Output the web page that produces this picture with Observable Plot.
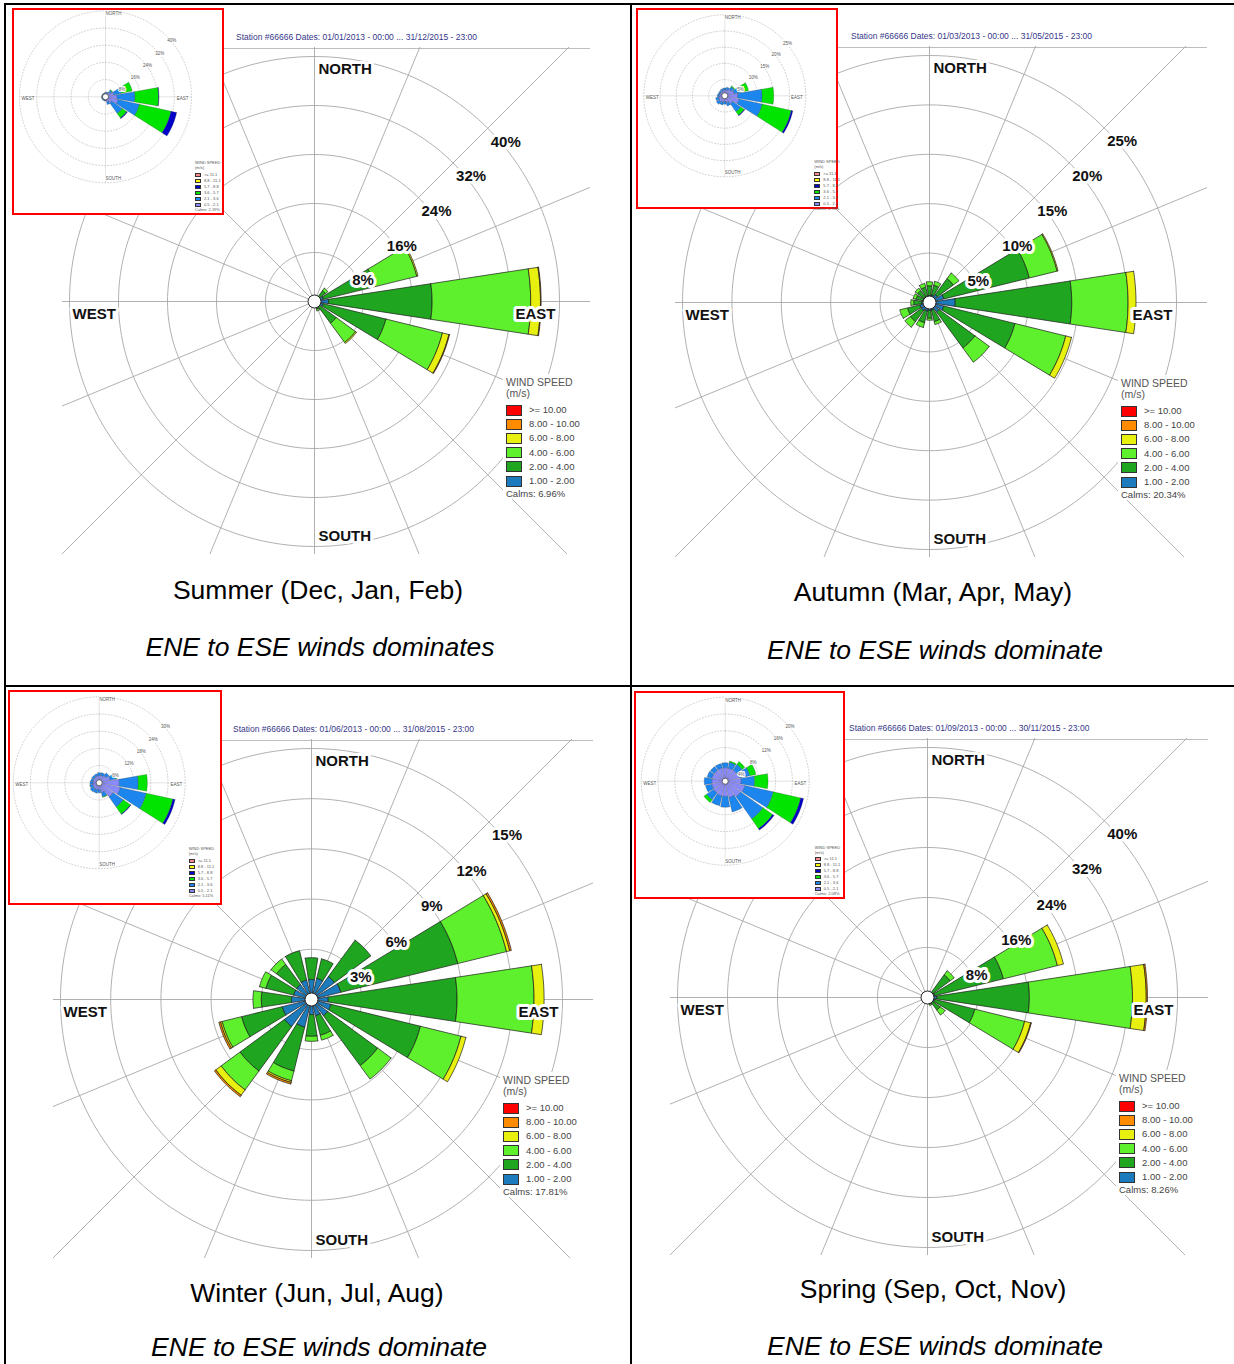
<!DOCTYPE html>
<html><head><meta charset="utf-8">
<script src="https://cdn.jsdelivr.net/npm/d3@7"></script>
<script src="https://cdn.jsdelivr.net/npm/@observablehq/plot@0.6"></script>
<style>
body{margin:0;background:#fff;font-family:"Liberation Sans",Arial,sans-serif;}
#page{position:relative;width:1234px;height:1364px;overflow:hidden;background:#fff}
.ln{position:absolute;background:#000}
.txt{position:absolute;white-space:nowrap;line-height:1}
.box{position:absolute;border:2px solid #ff0000;background:#fff;box-sizing:border-box}
.wbg{position:absolute;background:#fff}
.sw{position:absolute;box-sizing:border-box;border:1px solid #333}
</style></head>
<body><div id="page"></div>
<script>
// ---------- DATA ----------
const directions = ["N","NNE","NE","ENE","E","ESE","SE","SSE","S","SSW","SW","WSW","W","WNW","NW","NNW"];
const cardinalNames = ["NORTH","EAST","SOUTH","WEST"];
// main rose speed classes, inner -> outer
const speedLabels = ["1.00 - 2.00","2.00 - 4.00","4.00 - 6.00","6.00 - 8.00","8.00 - 10.00",">= 10.00"];
const insetSpeedLabels = ["0.5 - 2.1","2.1 - 3.6","3.6 - 5.7","5.7 - 8.8","8.8 - 11.1",">= 11.1"];

// frequencies (%) per direction, per class (inner -> outer)
const summerFreq = [
 [0.3,0.2],[0.3,0.3],[0.6,1.6,0.5],[1.5,8.7,7.0,0.2],[2.3,16.9,16.1,1.6,0.1],[1.5,10.5,9.5,1.1,0.1],[1.0,3.4,3.9,0.2],[0.5,0.8,0.3],
 [0.3,0.3],[0.3,0.2],[0.3,0.2],[0.3,0.2],[0.3,0.2],[0.3,0.1],[0.3,0.1],[0.3,0.1]];
const autumnFreq = [
 [0.7,1.0,0.4],[0.8,1.0,0.4],[1.0,2.0,0.7],[1.5,8.9,2.9,0.1],[2.6,11.8,5.7,0.8],[1.5,7.4,5.3,0.6],[1.2,4.5,1.8],[0.8,1.2,0.3],
 [0.8,0.8,0.2],[0.9,1.2,0.5],[1.0,1.4,0.7],[1.0,1.3,0.8],[0.8,0.8,0.3],[0.7,0.7,0.3],[0.7,0.8,0.3],[0.7,0.9,0.4]];
const winterFreq = [
 [1.2,1.3],[1.3,1.2],[1.7,2.7],[1.8,7.2,3.0,0.2,0.1],[1.0,7.7,4.6,0.6],[1.2,5.5,2.5,0.3],[1.2,3.7,1.0],[1.0,1.2,0.3],
 [0.9,1.3,0.3],[1.7,2.7,0.6,0.1,0.1],[2.0,3.3,1.4,0.4,0.1],[1.8,2.5,1.2,0.1,0.1],[1.2,1.8,0.5],[1.1,1.7,0.4],[1.1,1.5,0.4],[1.2,1.8]];
const springFreq = [
 [0.3,0.2],[0.4,0.4],[0.8,3.7,0.8],[1.2,11.3,8.9,1.0],[1.5,14.8,16.5,2.2,0.2],[1.2,6.6,8.2,1.0,0.1],[0.7,1.8,1.0],[0.5,0.6,0.2],
 [0.3,0.2],[0.3,0.2],[0.3,0.2],[0.3,0.2],[0.3,0.2],[0.3,0.2],[0.3,0.2],[0.3,0.2]];

const summerInsetFreq = [
 [1.6,0.4],[1.8,0.5],[2.5,1.2,0.3],[4.0,3.5,5.2],[5.3,8.4,11.0,0.2],[6.0,10.1,15.1,2.7],[3.5,6.0,2.5,0.4],[2.5,1.2],
 [1.6,0.4],[1.5,0.4],[1.5,0.4],[1.5,0.4],[1.5,0.3],[1.5,0.3],[1.5,0.3],[1.5,0.3]];
const autumnInsetFreq = [
 [1.8,0.6],[2.0,0.7],[2.4,1.0,0.3],[3.0,2.5,2.0],[4.0,7.5,3.6],[4.5,7.3,9.2,0.5],[3.0,3.0,1.3,0.2],[2.2,1.0],
 [1.8,0.8],[2.0,0.9],[2.2,1.0],[2.0,0.9],[1.7,0.6],[1.6,0.5],[1.6,0.5],[1.7,0.6]];
const winterInsetFreq = [
 [2.5,1.0],[2.6,1.0],[3.0,1.2],[4.0,2.0,0.3],[7.0,6.6,3.2],[7.5,9.3,9.5,0.8],[6.0,4.3,3.0,0.2],[3.5,1.5,0.2],
 [2.5,1.0],[2.5,1.2],[2.5,1.3],[2.4,1.0],[2.2,1.0],[2.2,0.8],[2.3,0.8],[2.4,0.8]];
const springInsetFreq = [
 [3.2,1.2],[3.2,1.4,0.3],[3.3,1.6,0.8],[3.5,2.5,1.5],[3.8,3.2,3.2],[4.8,6.9,6.7,0.7],[4.5,6.5,2.8,0.4],[4.0,3.5],
 [3.6,2.6],[3.6,2.4],[3.4,2.0,0.8],[3.3,1.5],[3.2,1.8],[3.2,1.2],[3.2,1.1],[3.2,1.1]];

const summerRings = [8,16,24,32,40];
const autumnRings = [5,10,15,20,25];
const winterRings = [3,6,9,12,15];
const springRings = [8,16,24,32,40];
const summerInsetRings = [8,16,24,32,40];
const autumnInsetRings = [5,10,15,20,25];
const winterInsetRings = [6,12,18,24,30];
const springInsetRings = [4,8,12,16,20];

const calmsValues = ["6.96%","20.34%","17.81%","8.26%"];
const insetCalms = ["2.19%","5.98%","5.11%","2.08%"];
const seasonTitles = ["Summer (Dec, Jan, Feb)","Autumn (Mar, Apr, May)","Winter (Jun, Jul, Aug)","Spring (Sep, Oct, Nov)"];
const seasonNotes = ["ENE to ESE winds dominates","ENE to ESE winds dominate","ENE to ESE winds dominate","ENE to ESE winds dominate"];
const headerTexts = [
 "Station #66666  Dates: 01/01/2013 - 00:00 ... 31/12/2015 - 23:00",
 "Station #66666  Dates: 01/03/2013 - 00:00 ... 31/05/2015 - 23:00",
 "Station #66666  Dates: 01/06/2013 - 00:00 ... 31/08/2015 - 23:00",
 "Station #66666  Dates: 01/09/2013 - 00:00 ... 30/11/2015 - 23:00"];

// ---------- STYLE ----------
const mainColors = ["#1b7bbd","#1fa51f","#5ef02c","#e8f010","#ff8c00","#ff0000"];
const insetColors = ["#8a8aff","#1c86ee","#00e400","#0000c8","#ffff00","#ff8a8a"];
const FONT = "Liberation Sans, Arial, sans-serif";

const page = document.getElementById("page");
function addText(txt, x, y, style) {
  const d = document.createElement("div");
  d.className = "txt"; d.textContent = txt;
  d.style.left = x + "px"; d.style.top = y + "px";
  d.style.cssText += style;
  page.appendChild(d); return d;
}
function addDiv(cls, x, y, w, h, style) {
  const d = document.createElement("div");
  d.className = cls;
  d.style.cssText = `left:${x}px;top:${y}px;width:${w}px;height:${h}px;` + (style || "");
  page.appendChild(d); return d;
}

function drawRose(o) {
  const {freq, rings, colors, cx, cy, R, left, top, right, bottom, hw, mini, lineY} = o;
  const max = rings[rings.length - 1];
  const u = max / R;
  const width = right - left, height = bottom - top;
  const rad = Math.PI / 180;
  const polar = (r, a) => [r * Math.sin(a * rad), r * Math.cos(a * rad)];
  const circlePts = rings.flatMap(r => d3.range(0, 361, 2).map(a => { const [x, y] = polar(r, a); return {r, x, y}; }));
  const spokeIdx = mini ? [0, 4, 8, 12] : d3.range(directions.length);
  const spokes = spokeIdx.map(i => { const [x2, y2] = polar(mini ? max : max * 1.9, i * 22.5); return {x2, y2}; });
  const segs = [];
  freq.forEach((vals, i) => {
    const th = i * 22.5;
    let r0 = 0;
    vals.forEach((v, j) => {
      if (!(v > 0)) return;
      const r1 = r0 + v, n = 10, pts = [];
      for (let k = 0; k <= n; k++) pts.push(polar(r1, th - hw + 2 * hw * k / n));
      if (r0 > 0) for (let k = n; k >= 0; k--) pts.push(polar(r0, th - hw + 2 * hw * k / n));
      else pts.push([0, 0]);
      pts.push(pts[0]);
      pts.forEach(([x, y]) => segs.push({id: i + "-" + j, cls: j, x, y}));
      r0 = r1;
    });
  });
  const marks = [];
  if (!mini) marks.push(Plot.ruleY([(cy - lineY) * u], {stroke: "#bdbdbd", strokeWidth: 1}));
  marks.push(Plot.link(spokes, {x1: () => 0, y1: () => 0, x2: "x2", y2: "y2",
    stroke: mini ? "#d0d0d0" : "#a8a8a8", strokeWidth: mini ? 0.6 : 0.9, clip: true}));
  marks.push(Plot.line(circlePts, {x: "x", y: "y", z: "r", stroke: mini ? "#b0b0b0" : "#a8a8a8",
    strokeWidth: mini ? 0.6 : 0.9, strokeDasharray: mini ? "1,2" : null}));
  colors.forEach((c, j) => {
    marks.push(Plot.line(segs.filter(d => d.cls === j), {x: "x", y: "y", z: "id", fill: c,
      stroke: mini ? "#333" : "#1a1a1a", strokeWidth: mini ? 0.25 : 0.7, strokeLinejoin: "round"}));
  });
  marks.push(Plot.dot([{x: 0, y: 0}], {x: "x", y: "y", r: mini ? 3 : 6.5, fill: "white",
    stroke: "#222", strokeWidth: mini ? 0.6 : 1}));
  // ring labels
  const rl = rings.map(r => ({r, x: r * Math.SQRT1_2, y: r * Math.SQRT1_2, t: r + "%"}));
  const rlOpts = mini
    ? {x: "x", y: "y", text: "t", dx: 1, dy: 5, textAnchor: "start", fontSize: 4.5}
    : {x: "x", y: "y", text: "t", dx: 3, dy: 13.5, textAnchor: "start", fontSize: 15, fontWeight: "bold"};
  marks.push(Plot.text(rl, {...rlOpts, fill: "white", stroke: "white", strokeWidth: mini ? 2 : 6}));
  marks.push(Plot.text(rl, {...rlOpts, fill: mini ? "#555" : "#111"}));
  // cardinal labels
  const card = [
    {t: cardinalNames[0], x: 0, y: max}, {t: cardinalNames[1], x: max, y: 0},
    {t: cardinalNames[2], x: 0, y: -max}, {t: cardinalNames[3], x: -max, y: 0}];
  const cOpts = mini
    ? [{dx: 0, dy: 3, textAnchor: "start"}, {dx: -3, dy: 2, textAnchor: "end"}, {dx: 0, dy: -4, textAnchor: "start"}, {dx: 2, dy: 2, textAnchor: "start"}]
    : [{dx: 4, dy: 12.5, textAnchor: "start"}, {dx: -4, dy: 13, textAnchor: "end"}, {dx: 4, dy: -10, textAnchor: "start"}, {dx: 3, dy: 13, textAnchor: "start"}];
  card.forEach((c, k) => {
    const base = {x: "x", y: "y", text: "t", ...cOpts[k], fontSize: mini ? 4.5 : 15, fontWeight: mini ? "normal" : "bold"};
    marks.push(Plot.text([c], {...base, fill: "white", stroke: "white", strokeWidth: mini ? 2 : 6}));
    marks.push(Plot.text([c], {...base, fill: mini ? "#555" : "#111"}));
  });
  const svg = Plot.plot({
    width, height, margin: 0,
    x: {domain: [-(cx - left) * u, (right - cx) * u], axis: null},
    y: {domain: [-(bottom - cy) * u, (cy - top) * u], axis: null},
    style: {background: "transparent", fontFamily: FONT, overflow: "visible"},
    marks
  });
  svg.style.position = "absolute";
  svg.style.left = left + "px";
  svg.style.top = top + "px";
  page.appendChild(svg);
}

function mainLegend(cx, cy, right, calms) {
  const x0 = cx + 192, y0 = cy + 82;
  addDiv("wbg", x0 - 3, y0 - 9, right - x0 + 3, 125);
  addText("WIND SPEED", x0, y0 - 6, "font-size:10.5px;color:#555");
  addText("(m/s)", x0, y0 + 5, "font-size:10.5px;color:#555");
  for (let k = 0; k < 6; k++) {
    const j = 5 - k, yy = y0 + 27 + 14.2 * k;
    addDiv("sw", x0, yy - 5.5, 16, 11, `background:${mainColors[j]}`);
    addText(speedLabels[j], x0 + 23, yy - 5, "font-size:9.5px;color:#444");
  }
  addText("Calms: " + calms, x0, y0 + 111 - 5, "font-size:9.5px;color:#444");
}
function insetLegend(cx, cy, calms) {
  const x0 = cx + 90, y0 = cy + 67;
  addText("WIND SPEED", x0, y0 - 2, "font-size:4px;color:#555");
  addText("(m/s)", x0, y0 + 3, "font-size:4px;color:#555");
  for (let k = 0; k < 6; k++) {
    const j = 5 - k, yy = y0 + 11.7 + 6 * k;
    addDiv("sw", x0, yy - 2, 6, 4, `background:${insetColors[j]};border-width:0.5px`);
    addText(insetSpeedLabels[j], x0 + 9, yy - 2, "font-size:4px;color:#555");
  }
  addText("Calms: " + calms, x0, y0 + 46.7 - 2, "font-size:4px;color:#555");
}

// ---------- PANELS ----------
const panels = [
  {freq: summerFreq, rings: summerRings, cx: 314, cy: 301, R: 245, tx: 318, ty: 590, ny: 648,
   inset: {freq: summerInsetFreq, rings: summerInsetRings, bx: 12, by: 8, bw: 212, bh: 207, cx: 105, cy: 96.3, R: 86}},
  {freq: autumnFreq, rings: autumnRings, cx: 929, cy: 302, R: 247, tx: 933, ty: 592, ny: 651,
   inset: {freq: autumnInsetFreq, rings: autumnInsetRings, bx: 636, by: 8, bw: 202, bh: 201, cx: 724.3, cy: 95.3, R: 81}},
  {freq: winterFreq, rings: winterRings, cx: 311, cy: 999, R: 251, tx: 317, ty: 1293, ny: 1348,
   inset: {freq: winterInsetFreq, rings: winterInsetRings, bx: 8, by: 690, bw: 214, bh: 215, cx: 98.7, cy: 782.3, R: 86}},
  {freq: springFreq, rings: springRings, cx: 927, cy: 997, R: 250, tx: 933, ty: 1289, ny: 1347,
   inset: {freq: springInsetFreq, rings: springInsetRings, bx: 634, by: 691, bw: 211, bh: 208, cx: 724.7, cy: 780.7, R: 84}}
];

// table lines
addDiv("ln", 4, 3, 1230, 2);
addDiv("ln", 4, 3, 2, 1361);
addDiv("ln", 630, 3, 2, 1361);
addDiv("ln", 4, 685, 1230, 2);

panels.forEach((p, k) => {
  const lineY = p.cy - p.R - 8;
  const right = p.cx + p.R + 31;
  drawRose({freq: p.freq, rings: p.rings, colors: mainColors, cx: p.cx, cy: p.cy, R: p.R,
    left: p.cx - p.R - 7, top: lineY - 1, right, bottom: p.cy + p.R + 8,
    hw: 8.7, mini: false, lineY});
  addText(headerTexts[k], p.cx - 78, lineY - 15, "font-size:8.5px;color:#36368a");
  mainLegend(p.cx, p.cy, right, calmsValues[k]);
  // inset
  const s = p.inset;
  addDiv("box", s.bx, s.by, s.bw, s.bh);
  drawRose({freq: s.freq, rings: s.rings, colors: insetColors, cx: s.cx, cy: s.cy, R: s.R,
    left: s.bx + 2, top: s.by + 2, right: s.bx + s.bw - 2, bottom: s.by + s.bh - 2,
    hw: 10, mini: true});
  insetLegend(s.cx, s.cy, insetCalms[k]);
  // captions
  addText(seasonTitles[k], p.tx, p.ty - 13, "font-size:26.5px;color:#000;transform:translateX(-50%)");
  addText(seasonNotes[k], p.tx + 2, p.ny - 13, "font-size:26.5px;line-height:25px;font-style:italic;color:#000;transform:translateX(-50%)");
});
</script>
</body></html>
